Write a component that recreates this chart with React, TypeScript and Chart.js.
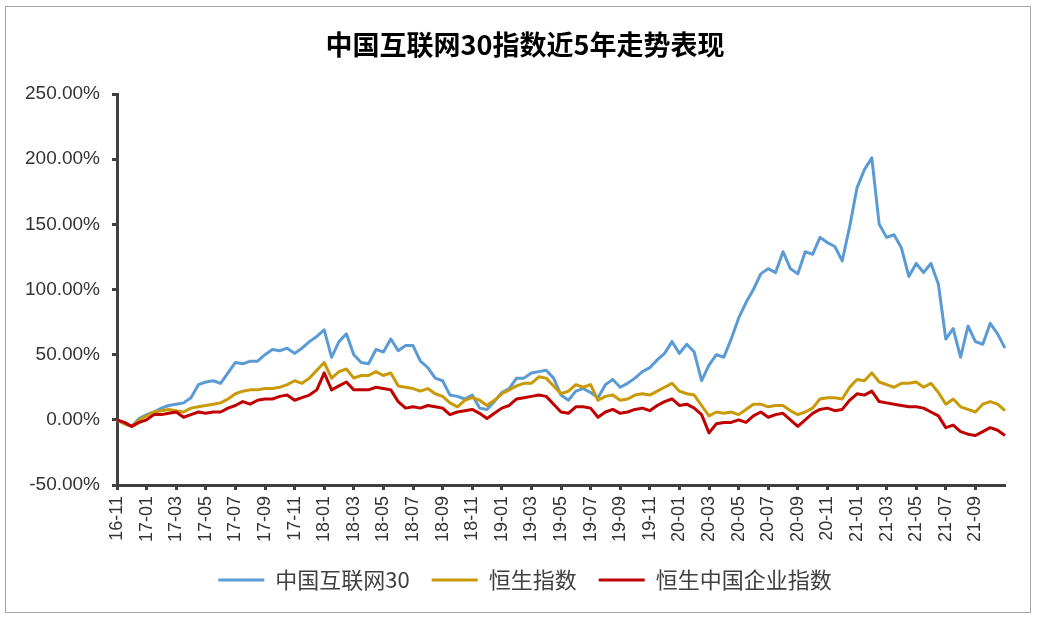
import React, { useEffect, useRef } from 'react';
import { Chart, registerables } from 'chart.js';

Chart.register(...registerables);

const titleText = '中国互联网30指数近5年走势表现';
const seriesNames = ['中国互联网30', '恒生指数', '恒生中国企业指数'];
const seriesColors = ['#5B9BD5', '#C99A06', '#C00000'];

// x-axis tick labels (every two months)
const tickLabels = [
  '16-11', '17-01', '17-03', '17-05', '17-07', '17-09', '17-11',
  '18-01', '18-03', '18-05', '18-07', '18-09', '18-11',
  '19-01', '19-03', '19-05', '19-07', '19-09', '19-11',
  '20-01', '20-03', '20-05', '20-07', '20-09', '20-11',
  '21-01', '21-03', '21-05', '21-07', '21-09',
];

// y-axis tick values
const yTicks = [-50, 0, 50, 100, 150, 200, 250];

// half-month sampling dates from 2016-11 to 2021-11
const categories: string[] = [];
for (let k = 0; k <= 60; k++) {
  const y = 2016 + Math.floor((10 + k) / 12);
  const m = ((10 + k) % 12) + 1;
  const mm = m < 10 ? '0' + m : '' + m;
  categories.push(`${y}-${mm}-01`);
  if (k < 60) categories.push(`${y}-${mm}-16`);
}

// cumulative return, %
const internet30 = [
  0, -3, -5, 1, 4, 6, 9, 11, 12, 13,
  17, 27, 29, 30, 28, 36, 44, 43, 45, 45,
  50, 54, 53, 55, 51, 55, 60, 64, 69, 48,
  60, 66, 50, 44, 43, 54, 52, 62, 53, 57,
  57, 45, 40, 32, 30, 19, 18, 16, 19, 9,
  8, 14, 21, 24, 32, 32, 36, 37, 38, 32,
  19, 15, 22, 24, 21, 17, 27, 31, 25, 28,
  32, 37, 40, 46, 51, 60, 51, 58, 52, 30,
  42, 50, 48, 62, 78, 90, 100, 112, 116, 113,
  129, 116, 112, 129, 127, 140, 136, 133, 122, 148,
  178, 192, 201, 150, 140, 142, 132, 110, 120, 113,
  120, 104, 62, 70, 48, 72, 60, 58, 74, 66,
  55,
];

const hangSeng = [
  0, -3, -5, 0, 3, 6, 7, 8, 7, 6,
  9, 10, 11, 12, 13, 16, 20, 22, 23, 23,
  24, 24, 25, 27, 30, 28, 32, 38, 44, 32,
  37, 39, 32, 34, 34, 37, 34, 36, 26, 25,
  24, 22, 24, 20, 18, 13, 10, 15, 17, 15,
  11, 15, 20, 23, 26, 28, 28, 33, 32, 26,
  20, 22, 27, 25, 27, 15, 18, 19, 15, 16,
  19, 20, 19, 22, 25, 28, 22, 20, 19, 11,
  3, 6, 5, 6, 4, 8, 12, 12, 10, 11,
  11, 7, 4, 6, 9, 16, 17, 17, 16, 25,
  31, 30, 36, 29, 27, 25, 28, 28, 29, 25,
  28, 21, 12, 16, 10, 8, 6, 12, 14, 12,
  7,
];

const hscei = [
  0, -2, -5, -2, 0, 4, 4, 5, 6, 2,
  4, 6, 5, 6, 6, 9, 11, 14, 12, 15,
  16, 16, 18, 19, 15, 17, 19, 23, 36, 23,
  26, 29, 23, 23, 23, 25, 24, 23, 14, 9,
  10, 9, 11, 10, 9, 4, 6, 7, 8, 5,
  1, 5, 9, 11, 16, 17, 18, 19, 18, 12,
  6, 5, 10, 10, 9, 2, 6, 8, 5, 6,
  8, 9, 7, 11, 14, 16, 11, 12, 9, 4,
  -10, -3, -2, -2, 0, -2, 3, 6, 2, 4,
  5, 0, -5, 0, 5, 8, 9, 7, 8, 15,
  20, 19, 22, 14, 13, 12, 11, 10, 10, 9,
  6, 3, -6, -4, -9, -11, -12, -9, -6, -8,
  -12,
];

const seriesData = [internet30, hangSeng, hscei];

const AXIS = '#404040';
const LATIN = '"Liberation Sans", Arial, sans-serif';
const CJK = '"Noto Sans CJK SC", "Liberation Sans", sans-serif';

export default function App() {
  const ref = useRef<HTMLCanvasElement>(null);

  useEffect(() => {
    const canvas = ref.current;
    if (!canvas) return;
    const chart = new Chart(canvas, {
      type: 'line',
      data: {
        labels: categories,
        datasets: seriesNames.map((name, i) => ({
          label: name,
          data: seriesData[i],
          borderColor: seriesColors[i],
          backgroundColor: seriesColors[i],
          borderWidth: 3,
          pointRadius: 0,
          tension: 0,
          borderJoinStyle: 'round' as const,
          order: 3 - i,
          yAxisID: 'y',
        })),
      },
      options: {
        animation: false,
        responsive: false,
        maintainAspectRatio: false,
        layout: { padding: { left: 14, right: 0, top: 0, bottom: 11 } },
        plugins: {
          tooltip: { enabled: false },
          title: {
            display: true,
            text: titleText,
            color: '#000',
            font: { family: CJK, size: 27, weight: 'bold', lineHeight: 1.2 },
            padding: { top: 22, bottom: 32.6 },
          },
          legend: {
            position: 'bottom',
            labels: {
              color: AXIS,
              font: { family: CJK, size: 22 },
              boxWidth: 46,
              boxHeight: 3,
              padding: 22,
              sort: (a: any, b: any) => a.datasetIndex - b.datasetIndex,
              generateLabels: (c: any) =>
                Chart.defaults.plugins.legend.labels.generateLabels(c).map((it: any) => ({
                  ...it,
                  fillStyle: seriesColors[it.datasetIndex],
                  strokeStyle: seriesColors[it.datasetIndex],
                  lineWidth: 0,
                })),
            },
          },
        },
        scales: {
          x: {
            type: 'category',
            offset: false,
            afterFit: (s: any) => { s.height = 62; },
            border: { display: true, color: AXIS, width: 3 },
            grid: {
              display: true,
              drawOnChartArea: false,
              drawTicks: true,
              tickLength: 5,
              tickWidth: 3,
              color: AXIS,
            },
            ticks: {
              autoSkip: false,
              maxRotation: 90,
              minRotation: 90,
              padding: 6,
              color: '#333',
              font: { family: LATIN, size: 18 },
              callback: (_v: any, index: number) =>
                index % 4 === 0 && tickLabels[index / 4] !== undefined ? tickLabels[index / 4] : null,
            },
          },
          y: {
            position: 'left',
            min: yTicks[0],
            max: yTicks[yTicks.length - 1],
            afterFit: (s: any) => { s.width = 97; },
            afterBuildTicks: (s: any) => { s.ticks = yTicks.map((v) => ({ value: v })); },
            border: { display: true, color: AXIS, width: 3 },
            grid: {
              display: true,
              drawOnChartArea: false,
              drawTicks: true,
              tickLength: 5,
              tickWidth: 3,
              color: AXIS,
            },
            ticks: {
              padding: 12,
              color: '#333',
              font: { family: LATIN, size: 19 },
              callback: (v: any) => Number(v).toFixed(2) + '%',
            },
          },
          yRight: {
            position: 'right',
            display: true,
            min: yTicks[0],
            max: yTicks[yTicks.length - 1],
            afterFit: (s: any) => { s.width = 25; },
            border: { display: false },
            grid: { display: false, drawTicks: false },
            ticks: { display: false },
          },
        },
      },
    });
    return () => chart.destroy();
  }, []);

  return (
    <div
      style={{
        position: 'absolute',
        left: 5,
        top: 6,
        width: 1026,
        height: 607,
        border: '1px solid #a6a6a6',
        boxSizing: 'border-box',
        background: '#fff',
      }}
    >
      <canvas ref={ref} width={1024} height={605} style={{ display: 'block' }} />
    </div>
  );
}
